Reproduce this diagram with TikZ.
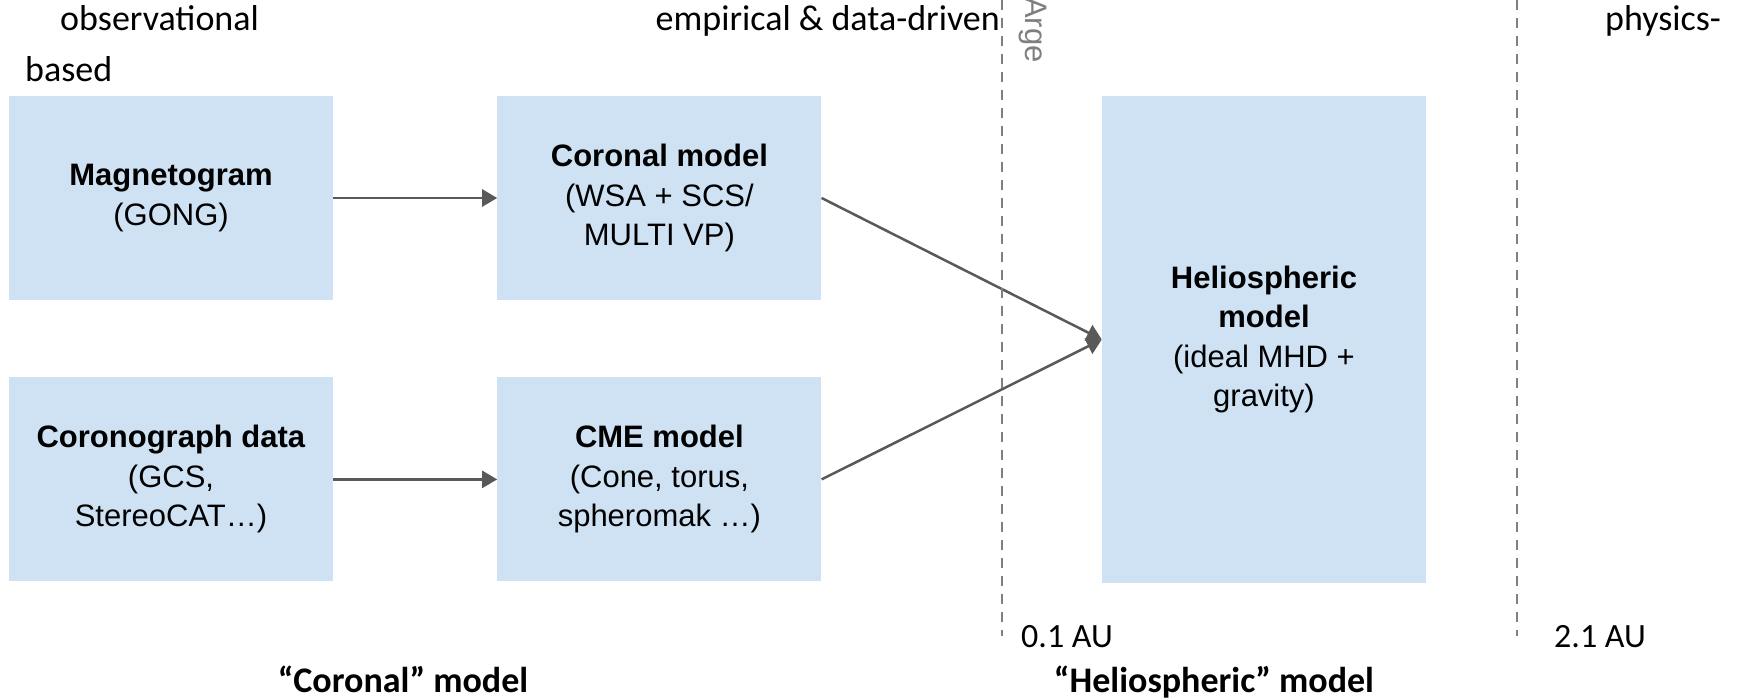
\documentclass[tikz,border=0pt]{standalone}
\usepackage{fontspec}
\setmainfont{Liberation Sans}
\newfontfamily\calfont{Carlito}
\usetikzlibrary{positioning,arrows.meta}
\definecolor{boxblue}{HTML}{CFE2F3}
\definecolor{arrowgray}{HTML}{595959}
\definecolor{linegray}{HTML}{7F7F7F}
\tikzset{modelbox/.style={rectangle, fill=boxblue, minimum width=324pt, minimum height=204pt, align=center, inner sep=0pt, font=\fontsize{31}{39.5}\selectfont},}
\tikzset{flow/.style={draw=arrowgray, line width=2.5pt, -{Triangle[length=15pt,width=17pt]}},}
\tikzset{boundary/.style={draw=linegray, line width=1.5pt, dash pattern=on 10pt off 8pt},}
\tikzset{toplabel/.style={inner sep=0pt, font=\calfont\fontsize{36}{51}\selectfont},}
\tikzset{aulabel/.style={inner sep=0pt, font=\calfont\fontsize{34}{40}\selectfont},}
\tikzset{partlabel/.style={inner sep=0pt, font=\calfont\bfseries\fontsize{36}{44}\selectfont},}

\begin{document}
\begin{tikzpicture}[x=1pt, y=-1pt, node distance=164pt]
\useasboundingbox (0,0) rectangle (1739,700);
\node [modelbox] (mag) at (171,198) {\textbf{Magnetogram}\\(GONG)};
\node [modelbox] (cor) [right=of mag] {\textbf{Coronal model}\\(WSA + SCS/\\MULTI VP)};
\node [modelbox] (cgr) [below=77pt of mag] {\textbf{Coronograph data}\\(GCS,\\StereoCAT…)};
\node [modelbox] (cme) [right=of cgr] {\textbf{CME model}\\(Cone, torus,\\spheromak …)};
\node [modelbox, minimum height=487pt] (hel) at (1264,339.5) {\textbf{Heliospheric}\\\textbf{model}\\(ideal MHD +\\gravity)};
\draw [flow] (mag) -- (cor);
\draw [flow] (cgr) -- (cme);
\draw [flow] (cor.east) -- (hel.west);
\draw [flow] (cme.east) -- (hel.west);

\draw [boundary] (1002,0) -- (1002,636);
\draw [boundary] (1517,0) -- (1517,636);
\node [anchor=base west, rotate=-90, inner sep=0pt, text=linegray, font=\fontsize{31}{38}\selectfont] (arge) at (1025,-3) {Arge};

\node [toplabel, anchor=base west, align=left] (obs) at (25,82) {\hspace*{35pt}observational\\based};
\node [toplabel, anchor=base east] (emp) at (1000,31) {empirical \& data-driven};
\node [toplabel, anchor=base west] (phy) at (1605,31) {physics-};
\node [aulabel, anchor=base west] (au1) at (1021,647) {0.1 AU};
\node [aulabel, anchor=base west] (au2) at (1554,647) {2.1 AU};
\node [partlabel, anchor=base] (corlab) at (403,692) {“Coronal” model};
\node [partlabel, anchor=base] (hellab) at (1214,692) {“Heliospheric” model};
\end{tikzpicture}
\end{document}
